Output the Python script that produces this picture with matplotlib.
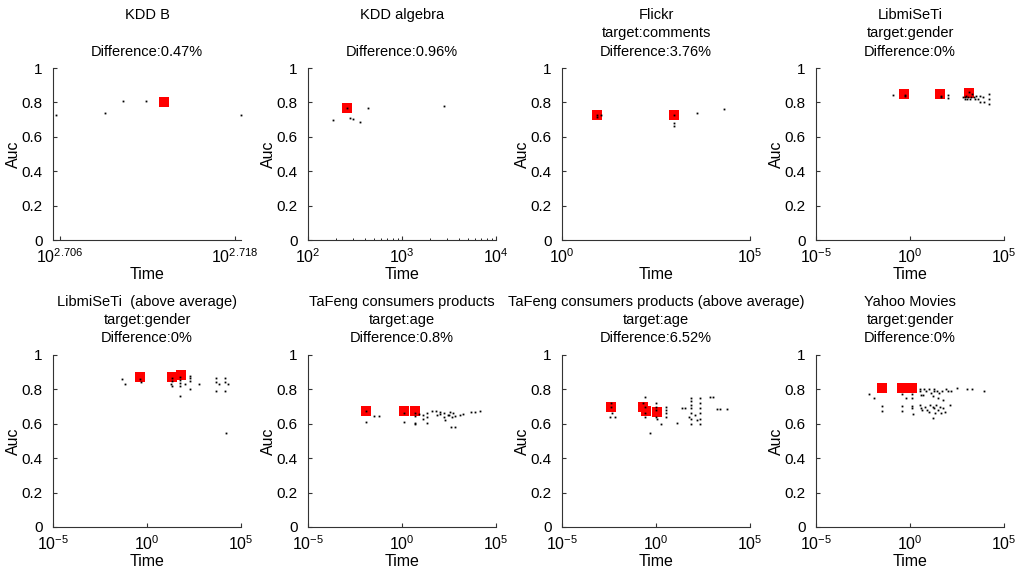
import numpy as np
import matplotlib
matplotlib.use('Agg')
import matplotlib.pyplot as plt

plt.rcParams['font.family'] = ['Liberation Sans', 'DejaVu Sans']
plt.rcParams['mathtext.default'] = 'regular'

# titles of the eight panels
titles = ['KDD B\n \nDifference:0.47%',
          'KDD algebra\n \nDifference:0.96%',
          'Flickr\ntarget:comments\nDifference:3.76%',
          'LibmiSeTi\ntarget:gender\nDifference:0%',
          'LibmiSeTi  (above average)\ntarget:gender\nDifference:0%',
          'TaFeng consumers products\ntarget:age\nDifference:0.8%',
          'TaFeng consumers products (above average)\ntarget:age\nDifference:6.52%',
          'Yahoo Movies\ntarget:gender\nDifference:0%']

# x range (log10 of time) and tick exponents per panel
xlim_exp = [(2.70554, 2.71843), (2, 4), (0, 5), (-5, 5), (-5, 5), (-5, 5), (-5, 5), (-5, 5)]
xtick_exp = [['2.706', '2.718'], ['2', '3', '4'], ['0', '5'],
             ['-5', '0', '5'], ['-5', '0', '5'], ['-5', '0', '5'], ['-5', '0', '5'], ['-5', '0', '5']]
minor_on = [False, True, False, False, False, False, False, False]

# all configurations: log10(time), auc
kddb_t = [2.70577, 2.70911, 2.71034, 2.71195, 2.71843]
kddb_auc = [0.728, 0.741, 0.811, 0.806, 0.728]
kddb_best_t = [2.71315]
kddb_best_auc = [0.802]

alg_t = [2.41, 2.267, 2.445, 2.474, 2.555, 2.64, 3.448]
alg_auc = [0.770, 0.695, 0.709, 0.703, 0.687, 0.770, 0.780]
alg_best_t = [2.41]
alg_best_auc = [0.770]

flickr_t = [0.933, 0.933, 1.05, 2.98, 2.98, 2.98, 3.6, 4.31]
flickr_auc = [0.724, 0.715, 0.728, 0.724, 0.68, 0.66, 0.738, 0.763]
flickr_best_t = [0.933, 2.98]
flickr_best_auc = [0.724, 0.724]

libim_t = [-0.89, -0.28, -0.28, 1.63, 1.63, 2.04, 2.04, 2.8, 2.9, 3.0, 3.1, 3.2, 3.3, 3.4,
           3.5, 3.6, 3.7, 3.7, 3.9, 4.2, 4.2, 4.2, 3.95, 2.9, 3.25, 3.15, 3.45, 3.05]
libim_auc = [0.841, 0.845, 0.835, 0.84, 0.83, 0.845, 0.825, 0.83, 0.82, 0.84, 0.83, 0.82, 0.85, 0.83,
             0.84, 0.82, 0.80, 0.84, 0.83, 0.85, 0.82, 0.79, 0.80, 0.83, 0.83, 0.86, 0.82, 0.82]
libim_best_t = [-0.30, 1.60, 3.15]
libim_best_auc = [0.849, 0.849, 0.856]

libav_t = [-1.35, -1.19, -0.36, -0.34, 1.31, 1.31, 1.28, 1.33, 1.76, 1.76, 1.76, 1.76, 2.04,
           2.29, 2.29, 2.29, 2.27, 1.76, 2.75, 3.67, 3.67, 3.67, 3.85, 4.15, 4.15, 4.15, 4.29, 4.18]
libav_auc = [0.860, 0.831, 0.86, 0.845, 0.864, 0.849, 0.833, 0.821, 0.87, 0.855, 0.84, 0.82, 0.833,
             0.88, 0.865, 0.85, 0.80, 0.763, 0.833, 0.868, 0.845, 0.793, 0.831, 0.868, 0.845, 0.793, 0.831, 0.548]
libav_best_t = [-0.36, 1.31, 1.79]
libav_best_auc = [0.874, 0.874, 0.882]

taf_t = [-1.93, -1.92, -1.47, -1.22, 0.11, 0.11, 0.69, 0.69, 0.69, 0.69, 0.92, 1.13, 1.35, 1.35,
         1.58, 1.81, 1.84, 2.02, 2.25, 2.29, 2.46, 2.55, 2.61, 2.64, 2.73, 2.82, 2.82, 3.09, 3.26,
         3.67, 3.88, 4.15, 1.13, 1.35, 2.25, 2.5, 2.0]
taf_auc = [0.674, 0.609, 0.647, 0.647, 0.665, 0.609, 0.665, 0.645, 0.607, 0.597, 0.657, 0.651, 0.665, 0.603,
           0.676, 0.676, 0.651, 0.657, 0.665, 0.622, 0.651, 0.671, 0.583, 0.641, 0.661, 0.580, 0.645, 0.651, 0.657,
           0.667, 0.671, 0.676, 0.63, 0.64, 0.64, 0.65, 0.67]
taf_best_t = [-1.93, 0.11, 0.69]
taf_best_auc = [0.674, 0.674, 0.674]

tafav_t = [-2.39, -2.39, -2.45, -2.2, -2.35, -0.6, -0.67, -0.6, -0.6, -0.6, -0.32, 0.0, 0.0, 0.0, 0.0,
           0.05, 0.25, 0.53, 0.53, 0.53, 0.53, 1.10, 1.4, 1.55, 1.86, 1.86, 1.86, 1.86, 1.86, 1.86, 1.86,
           1.75, 2.34, 2.34, 2.34, 2.34, 2.34, 2.34, 2.1, 2.87, 3.05, 3.23, 3.4, 3.78, 2.2]
tafav_auc = [0.72, 0.70, 0.64, 0.64, 0.66, 0.758, 0.72, 0.70, 0.66, 0.64, 0.548, 0.72, 0.70, 0.68, 0.64,
             0.63, 0.60, 0.70, 0.68, 0.66, 0.64, 0.603, 0.69, 0.69, 0.75, 0.73, 0.71, 0.69, 0.66, 0.63, 0.60,
             0.64, 0.75, 0.72, 0.69, 0.66, 0.63, 0.60, 0.65, 0.754, 0.754, 0.686, 0.686, 0.686, 0.62]
tafav_best_t = [-2.39, -0.67, -0.55, 0.04]
tafav_best_auc = [0.696, 0.696, 0.676, 0.670]

yahoo_t = [-2.18, -1.91, -1.47, -1.47, -0.44, -0.44, -0.44, 0.12, 0.12, 0.12, 0.12, 0.14, -0.21,
           0.55, 0.55, 0.6, 0.75, 0.85, 1.0, 1.1, 1.25, 1.3, 1.45, 1.55, 1.7, 1.9, 0.7, 1.2, 1.5,
           0.55, 0.6, 0.8, 0.9, 1.05, 1.2, 1.3, 1.4, 1.5, 1.6, 1.75, 1.85, 1.65, 1.21, 2.13, 2.48,
           3.02, 3.28, 3.94, 0.65, 1.0, 1.35, 2.0, 2.2, 1.75]
yahoo_auc = [0.771, 0.752, 0.703, 0.674, 0.773, 0.703, 0.674, 0.773, 0.752, 0.703, 0.690, 0.657, 0.752,
             0.80, 0.79, 0.77, 0.80, 0.79, 0.80, 0.78, 0.79, 0.80, 0.79, 0.78, 0.79, 0.80, 0.77, 0.76, 0.75,
             0.71, 0.69, 0.70, 0.68, 0.71, 0.70, 0.69, 0.71, 0.68, 0.70, 0.69, 0.67, 0.66, 0.636, 0.709, 0.81,
             0.80, 0.80, 0.79, 0.68, 0.67, 0.66, 0.79, 0.79, 0.74]
yahoo_best_t = [-1.47, -0.44, 0.12]
yahoo_best_auc = [0.806, 0.806, 0.806]

all_t = [kddb_t, alg_t, flickr_t, libim_t, libav_t, taf_t, tafav_t, yahoo_t]
all_auc = [kddb_auc, alg_auc, flickr_auc, libim_auc, libav_auc, taf_auc, tafav_auc, yahoo_auc]
best_t = [kddb_best_t, alg_best_t, flickr_best_t, libim_best_t, libav_best_t, taf_best_t, tafav_best_t, yahoo_best_t]
best_auc = [kddb_best_auc, alg_best_auc, flickr_best_auc, libim_best_auc, libav_best_auc, taf_best_auc,
            tafav_best_auc, yahoo_best_auc]

fig = plt.figure(figsize=(10.2, 5.73), dpi=100)
lefts = [53, 308, 562, 816]
bottoms = [240, 527]

for i in range(8):
    row, col = divmod(i, 4)
    ax = fig.add_axes([lefts[col] / 1020, 1 - bottoms[row] / 573, 188 / 1020, 172 / 573])

    # best configurations in red, every configuration as a tiny black dot
    ax.plot(10.0 ** np.array(best_t[i]), best_auc[i], 's', color='#ff0000', ms=6.5, mew=0)
    ax.plot(10.0 ** np.array(all_t[i]), all_auc[i], 's', color='black', ms=1.3, mew=0, clip_on=False)

    ax.set_xscale('log')
    ax.set_xlim(10 ** xlim_exp[i][0], 10 ** xlim_exp[i][1])
    ax.set_ylim(0, 1)
    ax.set_xticks([10 ** float(e) for e in xtick_exp[i]])
    ax.set_xticklabels(['$10^{%s}$' % e for e in xtick_exp[i]])
    if not minor_on[i]:
        ax.xaxis.set_minor_locator(matplotlib.ticker.NullLocator())
    ax.set_yticks([0, 0.2, 0.4, 0.6, 0.8, 1])
    ax.set_yticklabels(['0', '0.2', '0.4', '0.6', '0.8', '1'])
    ax.tick_params(direction='in', length=3, color='#333333')
    ax.tick_params(axis='x', labelsize=11.5, pad=5)
    ax.tick_params(axis='y', labelsize=11, pad=7.5)
    ax.tick_params(which='minor', direction='in', length=1.5)
    for s in ['top', 'right']:
        ax.spines[s].set_visible(False)
    for s in ['left', 'bottom']:
        ax.spines[s].set_color('#333333')
    ax.set_xlabel('Time', fontsize=11.5, labelpad=1)
    ax.set_ylabel('Auc', fontsize=11.5, labelpad=0)
    ax.set_title(titles[i], fontsize=10.5, linespacing=1.38, pad=9)

plt.savefig('out.png', dpi=100)
